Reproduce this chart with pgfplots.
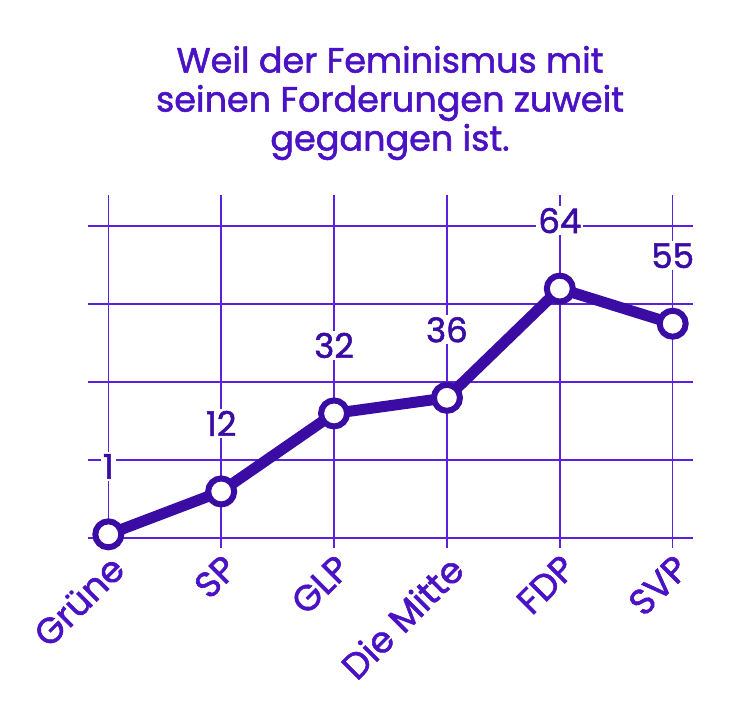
\documentclass[border=0pt]{standalone}
\usepackage{fontspec}
\setmainfont{Poppins}[FakeBold=1.6]
\usepackage{pgfplots}
\pgfplotsset{compat=1.18}
\definecolor{gridc}{HTML}{5A22DC}
\definecolor{linec}{HTML}{3A0CA3}
\definecolor{textc}{HTML}{4A12C4}
\begin{document}
\begin{tikzpicture}[x=1pt,y=1pt]
\path[use as bounding box] (0,0) rectangle (755,725);
\node[align=center, text=textc, font=\fontsize{35}{39}\selectfont] at (390,622) {Weil der Feminismus mit\\seinen Forderungen zuweit\\gegangen ist.};
\begin{axis}[at={(88pt,177pt)}, anchor=south west,
  width=605pt, height=353pt, scale only axis,
  xmin=-0.18, xmax=5.18, ymin=-2.5, ymax=88,
  axis line style={draw=none},
  major tick length=0pt,
  xtick={0,1,2,3,4,5},
  xticklabels={Grüne,SP,GLP,Die Mitte,FDP,SVP},
  ytick={0,20,40,60,80}, yticklabels={},
  grid=major, grid style={gridc, line width=1.6pt},
  xticklabel style={rotate=45, anchor=north east, text=textc, font=\fontsize{36}{36}\selectfont},
  clip=false,
  /pgf/number format/assume math mode=true,
  nodes near coords={\fontsize{34}{34}\selectfont\pgfmathprintnumber{\pgfplotspointmeta}},
  every node near coord/.append style={anchor=center, yshift=68pt, fill=white, inner sep=2pt, text=linec},
]
\addplot[linec, line width=11pt, mark=*, mark size=13pt, mark options={fill=white, draw=linec, line width=6pt}] coordinates {
(0,1) (1,12) (2,32) (3,36) (4,64) (5,55)
};
\end{axis}
\end{tikzpicture}
\end{document}
